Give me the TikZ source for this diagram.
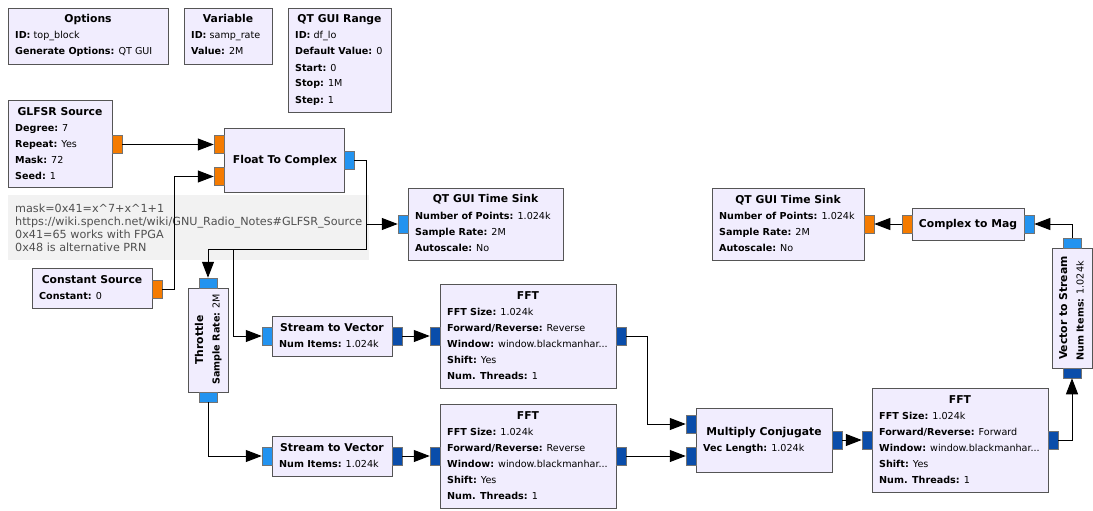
\documentclass[tikz,border=0pt]{standalone}
\usepackage{fontspec}
\setmainfont{DejaVu Sans}
\usetikzlibrary{arrows.meta}
\definecolor{boxfill}{HTML}{F1EDFE}
\definecolor{boxline}{HTML}{555555}
\definecolor{pfloat}{HTML}{F57B00}
\definecolor{pcplx}{HTML}{2293F0}
\definecolor{pvec}{HTML}{0A4DAA}
\definecolor{cmtbg}{HTML}{F2F2F2}
\definecolor{cmttxt}{HTML}{505050}
\tikzset{
  blockbox/.style={draw=boxline, fill=boxfill, line width=0.9pt, inner sep=0pt},
  portbox/.style={draw=black!55, line width=0.5pt, inner sep=0pt},
  ttl/.style={inner sep=0pt, font=\fontsize{10.8}{12}\selectfont\bfseries},
  prm/.style={inner sep=0pt, font=\fontsize{9.6}{12}\selectfont},
  cmt/.style={inner sep=0pt, text=cmttxt, font=\fontsize{11.2}{13}\selectfont},
  conn/.style={draw=black, line width=1pt, -{Triangle[length=16pt,width=12pt]}},
  wire/.style={draw=black, line width=1pt},
}
\newcommand\bbox[5]{\node[blockbox, minimum width={(#4-#2)*1pt}, minimum height={(#5-#3)*1pt}] (#1) at ({(#2+#4)/2},{(#3+#5)/2}) {};}
\newcommand\pport[6]{\node[portbox, fill=#6, minimum width={(#4-#2)*1pt}, minimum height={(#5-#3)*1pt}] (#1) at ({(#2+#4)/2},{(#3+#5)/2}) {};}
\newcommand\tl[4]{\node[ttl, anchor=base] (#1) at (#2,#3) {#4};}
\newcommand\pl[4]{\node[prm, anchor=base west] (#1) at (#2,#3) {#4};}
\begin{document}
\begin{tikzpicture}[x=1pt,y=-1pt]
\useasboundingbox[fill=white] (0,0) rectangle (1093,511);

% comment
\node[fill=cmtbg, minimum width=361pt, minimum height=65pt, inner sep=0pt] (cmtbox) at (188.5,227.5) {};
\node[cmt, anchor=base west] (c1) at (15,212) {mask=0x41=x\textasciicircum7+x\textasciicircum1+1};
\node[cmt, anchor=base west] (c2) at (15,225) {https://wiki.spench.net/wiki/GNU\_Radio\_Notes\#GLFSR\_Source};
\node[cmt, anchor=base west] (c3) at (15,238) {0x41=65 works with FPGA};
\node[cmt, anchor=base west] (c4) at (15,251) {0x48 is alternative PRN};

% Options
\bbox{opt}{8}{8}{168}{64}
\tl{opt-t}{88}{23}{Options}
\pl{opt-1}{15}{39}{\textbf{ID:} top\_block}
\pl{opt-2}{15}{55}{\textbf{Generate Options:} QT GUI}
% Variable
\bbox{var}{184}{8}{272}{64}
\tl{var-t}{228}{23}{Variable}
\pl{var-1}{191}{39}{\textbf{ID:} samp\_rate}
\pl{var-2}{191}{55}{\textbf{Value:} 2M}
% QT GUI Range
\bbox{rng}{288}{8}{391}{112}
\tl{rng-t}{339.5}{23}{QT GUI Range}
\pl{rng-1}{295}{39}{\textbf{ID:} df\_lo}
\pl{rng-2}{295}{55}{\textbf{Default Value:} 0}
\pl{rng-3}{295}{71}{\textbf{Start:} 0}
\pl{rng-4}{295}{87}{\textbf{Stop:} 1M}
\pl{rng-5}{295}{103}{\textbf{Step:} 1}
% GLFSR
\bbox{glf}{8}{100}{112}{187}
\tl{glf-t}{60}{115}{GLFSR Source}
\pl{glf-1}{15}{131}{\textbf{Degree:} 7}
\pl{glf-2}{15}{147}{\textbf{Repeat:} Yes}
\pl{glf-3}{15}{163}{\textbf{Mask:} 72}
\pl{glf-4}{15}{179}{\textbf{Seed:} 1}
% Float To Complex
\bbox{ftc}{224}{128}{344}{192}
\tl{ftc-t}{285}{163}{Float To Complex}
% Constant Source
\bbox{cst}{32}{268}{152}{308}
\tl{cst-t}{92}{283}{Constant Source}
\pl{cst-1}{39}{299.5}{\textbf{Constant:} 0}
% Throttle
\bbox{thr}{188}{288}{228}{392}
\node[ttl, anchor=base, rotate=90] (thr-t) at (203,340) {Throttle};
\node[prm, anchor=base west, rotate=90] (thr-1) at (219.5,385) {\textbf{Sample Rate:} 2M};
% Time Sink 1
\bbox{ts1}{408}{188}{563}{260}
\tl{ts1-t}{485.5}{202.5}{QT GUI Time Sink}
\pl{ts1-1}{415}{219}{\textbf{Number of Points:} 1.024k}
\pl{ts1-2}{415}{235}{\textbf{Sample Rate:} 2M}
\pl{ts1-3}{415}{251}{\textbf{Autoscale:} No}
% Stream to Vector 1
\bbox{sv1}{272}{316}{392}{356}
\tl{sv1-t}{332}{331}{Stream to Vector}
\pl{sv1-1}{279}{347.5}{\textbf{Num Items:} 1.024k}
% Stream to Vector 2
\bbox{sv2}{272}{436}{392}{476}
\tl{sv2-t}{332}{451}{Stream to Vector}
\pl{sv2-1}{279}{467.5}{\textbf{Num Items:} 1.024k}
% FFT 1
\bbox{ff1}{440}{284}{616}{388}
\tl{ff1-t}{528}{299}{FFT}
\pl{ff1-1}{447}{315}{\textbf{FFT Size:} 1.024k}
\pl{ff1-2}{447}{331}{\textbf{Forward/Reverse:} Reverse}
\pl{ff1-3}{447}{347}{\textbf{Window:} window.blackmanhar...}
\pl{ff1-4}{447}{363}{\textbf{Shift:} Yes}
\pl{ff1-5}{447}{379}{\textbf{Num. Threads:} 1}
% FFT 2
\bbox{ff2}{440}{404}{616}{508}
\tl{ff2-t}{528}{419}{FFT}
\pl{ff2-1}{447}{435}{\textbf{FFT Size:} 1.024k}
\pl{ff2-2}{447}{451}{\textbf{Forward/Reverse:} Reverse}
\pl{ff2-3}{447}{467}{\textbf{Window:} window.blackmanhar...}
\pl{ff2-4}{447}{483}{\textbf{Shift:} Yes}
\pl{ff2-5}{447}{499}{\textbf{Num. Threads:} 1}
% Multiply Conjugate
\bbox{mc}{696}{408}{832}{472}
\tl{mc-t}{764}{435}{Multiply Conjugate}
\pl{mc-1}{703}{451}{\textbf{Vec Length:} 1.024k}
% FFT 3
\bbox{ff3}{872}{388}{1048}{492}
\tl{ff3-t}{960}{403}{FFT}
\pl{ff3-1}{879}{419}{\textbf{FFT Size:} 1.024k}
\pl{ff3-2}{879}{435}{\textbf{Forward/Reverse:} Forward}
\pl{ff3-3}{879}{451}{\textbf{Window:} window.blackmanhar...}
\pl{ff3-4}{879}{467}{\textbf{Shift:} Yes}
\pl{ff3-5}{879}{483}{\textbf{Num. Threads:} 1}
% Vector to Stream
\bbox{vts}{1052}{248}{1092}{368}
\node[ttl, anchor=base, rotate=90] (vts-t) at (1067,308) {Vector to Stream};
\node[prm, anchor=base west, rotate=90] (vts-1) at (1083.5,361) {\textbf{Num Items:} 1.024k};
% Complex to Mag
\bbox{ctm}{912}{208}{1024}{240}
\tl{ctm-t}{968}{227.5}{Complex to Mag}
% Time Sink 2
\bbox{ts2}{712}{188}{864}{260}
\tl{ts2-t}{788}{203}{QT GUI Time Sink}
\pl{ts2-1}{719}{219}{\textbf{Number of Points:} 1.024k}
\pl{ts2-2}{719}{235}{\textbf{Sample Rate:} 2M}
\pl{ts2-3}{719}{251}{\textbf{Autoscale:} No}

% ports
\pport{glf-o}{112}{135.5}{122}{153.5}{pfloat}
\pport{ftc-i1}{214}{135.5}{224}{153.5}{pfloat}
\pport{ftc-i2}{214}{167.5}{224}{185.5}{pfloat}
\pport{ftc-o}{344}{151}{354}{169}{pcplx}
\pport{cst-o}{152}{280}{162}{298}{pfloat}
\pport{thr-i}{199}{278}{217}{288}{pcplx}
\pport{thr-o}{199}{392}{217}{402}{pcplx}
\pport{ts1-i}{398}{215}{408}{233}{pcplx}
\pport{sv1-i}{262}{327}{272}{345}{pcplx}
\pport{sv1-o}{392}{327}{402}{345}{pvec}
\pport{ff1-i}{430}{327}{440}{345}{pvec}
\pport{ff1-o}{616}{327}{626}{345}{pvec}
\pport{sv2-i}{262}{447}{272}{465}{pcplx}
\pport{sv2-o}{392}{447}{402}{465}{pvec}
\pport{ff2-i}{430}{447}{440}{465}{pvec}
\pport{ff2-o}{616}{447}{626}{465}{pvec}
\pport{mc-i1}{686}{415}{696}{433}{pvec}
\pport{mc-i2}{686}{447}{696}{465}{pvec}
\pport{mc-o}{832}{431}{842}{449}{pvec}
\pport{ff3-i}{862}{431}{872}{449}{pvec}
\pport{ff3-o}{1048}{431}{1058}{449}{pvec}
\pport{vts-i}{1063}{238}{1081}{248}{pcplx}
\pport{vts-o}{1063}{368}{1081}{378}{pvec}
\pport{ctm-i}{1024}{215}{1034}{233}{pcplx}
\pport{ctm-o}{902}{215}{912}{233}{pfloat}
\pport{ts2-i}{864}{215}{874}{233}{pfloat}

% bend coordinates
\coordinate (b1) at (174,289);
\coordinate (b2) at (366,160);
\coordinate (b3) at (366,249);
\coordinate (b4) at (233,249);
\coordinate (b5) at (647,336);
\coordinate (b6) at (1072,440);
\coordinate (b7) at (1072,224);

% connections
\draw[conn] (glf-o.east) -- (ftc-i1.west);
\draw[conn] (cst-o.east) -- (b1) |- (ftc-i2.west);
\draw[conn] (ftc-o.east) -- (b2) |- (ts1-i.west);
\draw[conn] (ftc-o.east) -- (b2) -- (b3) -| (thr-i.north);
\draw[conn] (b3) -- (b4) |- (sv1-i.west);
\draw[conn] (thr-o.south) |- (sv2-i.west);
\draw[conn] (sv1-o.east) -- (ff1-i.west);
\draw[conn] (sv2-o.east) -- (ff2-i.west);
\draw[conn] (ff1-o.east) -- (b5) |- (mc-i1.west);
\draw[conn] (ff2-o.east) -- (mc-i2.west);
\draw[conn] (mc-o.east) -- (ff3-i.west);
\draw[conn] (ff3-o.east) -- (b6) -- (vts-o.south);
\draw[conn] (vts-i.north) -- (b7) -- (ctm-i.east);
\draw[conn] (ctm-o.west) -- (ts2-i.east);
\end{tikzpicture}
\end{document}
